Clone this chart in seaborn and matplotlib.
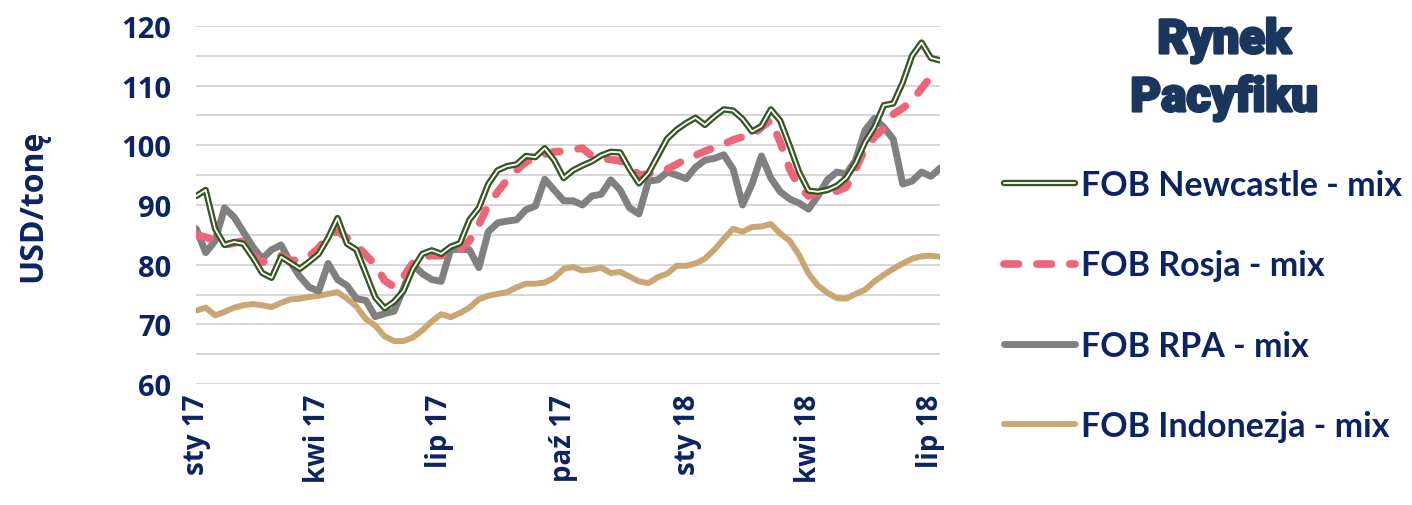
import numpy as np
import pandas as pd
import matplotlib.pyplot as plt
import matplotlib.patheffects as pe
from matplotlib.lines import Line2D
import seaborn as sns

weeks = pd.date_range('2017-01-01', periods=80, freq='7D')

newcastle = [91.5, 92.5, 86, 83.3, 83.8, 83.5, 81.2, 78.6, 77.8, 81.3,
             80.3, 79.3, 80.5, 81.8, 84.5, 87.8, 83.5, 82.5, 78.5, 74.5,
             72.7, 73.8, 75.6, 79.3, 81.8, 82.4, 81.8, 83, 83.6, 87.5,
             89.5, 93.5, 95.8, 96.5, 96.8, 98.2, 98, 99.5, 97.5, 94.5,
             95.8, 96.6, 97.3, 98.3, 98.9, 98.8, 96, 93.6, 95.3, 98.2,
             101.1, 102.6, 103.7, 104.6, 103.4, 104.8, 106, 105.8, 104.4, 102.3,
             103.2, 106, 104.1, 99.9, 95.5, 92.4, 92.2, 92.5, 93.2, 94.5,
             97, 100.5, 103, 106.7, 107, 110.5, 115, 117.2, 114.6, 114.2]
rosja = [85, 84.6, 84, 83.3, 83.6, 84, 81.5, 80.4, 80.8, 81.5,
         80.7, 80.8, 81.4, 82.8, 84.8, 85.6, 84.5, 83.3, 81.6, 80,
         77.3, 76.3, 78, 80.3, 81.3, 81.5, 81.5, 82, 82.5, 84,
         86.7, 90, 92.2, 94.2, 95.8, 97.2, 97.9, 98.5, 98.9, 99,
         99.3, 99.5, 98.2, 97.8, 97.6, 97.4, 96.5, 95, 95.2, 95.6,
         96, 96.8, 97.7, 98.3, 99, 99.6, 100.2, 100.9, 101.4, 101.6,
         103, 104.2, 100.5, 96, 93, 91.5, 92, 92.4, 92.3, 93,
         96, 99.5, 101.4, 102.8, 105.2, 106.2, 107.5, 109.5, 111.5, np.nan]
rpa = [86, 82, 84, 89.5, 88, 85.5, 83, 81, 82.5, 83.3,
       80.4, 78, 76.2, 75.6, 80.2, 77.5, 76.5, 74.3, 74, 71.3,
       71.8, 72.2, 76, 80, 78.5, 77.5, 77.2, 82.5, 82.6, 82.5,
       79.5, 85.5, 87, 87.3, 87.5, 89.2, 89.8, 94.3, 92.5, 90.7,
       90.7, 90, 91.5, 91.8, 94.2, 92.5, 89.5, 88.5, 94, 94.2,
       95.5, 95, 94.4, 96.3, 97.5, 97.8, 98.4, 96, 90, 93.5,
       98.2, 94.5, 92.2, 91, 90.3, 89.3, 91.5, 94.2, 95.5, 95.2,
       97.5, 102.5, 104.5, 103, 101, 93.5, 94, 95.5, 94.8, 96.2]
indonezja = [72.3, 72.8, 71.5, 72.1, 72.8, 73.2, 73.4, 73.2, 72.9, 73.6,
             74.2, 74.3, 74.6, 74.8, 75.1, 75.4, 74.3, 73, 70.9, 69.8,
             68, 67.2, 67.2, 67.8, 69, 70.5, 71.7, 71.2, 71.9, 72.8,
             74.2, 74.8, 75.1, 75.4, 76.2, 76.8, 76.8, 77, 77.8, 79.3,
             79.6, 79, 79.2, 79.5, 78.6, 78.8, 78, 77.2, 76.9, 77.9,
             78.5, 79.8, 79.8, 80.2, 81, 82.5, 84.3, 86, 85.5, 86.3,
             86.4, 86.8, 85.2, 84, 81.6, 78.5, 76.5, 75.3, 74.4, 74.3,
             75.1, 75.8, 77.2, 78.3, 79.3, 80.2, 81, 81.4, 81.5, 81.3]

tick_dates = ['2017-01-01', '2017-04-01', '2017-07-01', '2017-10-01',
              '2018-01-01', '2018-04-01', '2018-07-01']
tick_labels = ['sty 17', 'kwi 17', 'lip 17', 'paź 17', 'sty 18', 'kwi 18', 'lip 18']
series_names = ['FOB Newcastle - mix', 'FOB Rosja - mix', 'FOB RPA - mix', 'FOB Indonezja - mix']

navy = '#0b2360'
green = '#375623'
red = '#ec6578'
gray = '#808080'
tan = '#c9a774'
title_col = '#1b365d'

sns.set_style('white')
plt.rcParams['font.family'] = ['Open Sans', 'DejaVu Sans']

fig = plt.figure(figsize=(14.12, 5.06), dpi=100)
ax = fig.add_axes([0.139, 0.239, 0.527, 0.708])

df = pd.DataFrame({'week': weeks, 'newcastle': newcastle, 'rosja': rosja,
                   'rpa': rpa, 'indonezja': indonezja})

sns.lineplot(data=df, x='week', y='indonezja', ax=ax, color=tan, lw=4.3,
             solid_capstyle='round', solid_joinstyle='round')
sns.lineplot(data=df, x='week', y='rpa', ax=ax, color=gray, lw=5,
             solid_capstyle='round', solid_joinstyle='round')
sns.lineplot(data=df, x='week', y='rosja', ax=ax, color=red, lw=5.5,
             linestyle=(0, (1.9, 2.4)), dash_capstyle='round')
green_fx = [pe.Stroke(linewidth=4.6, foreground=green), pe.Normal()]
sns.lineplot(data=df, x='week', y='newcastle', ax=ax, color='white', lw=1.3,
             path_effects=green_fx)

ax.set_xlim(weeks[0], weeks[-1])
ax.set_ylim(60, 120)
ax.set_yticks(range(60, 121, 10))
ax.set_yticks(range(65, 121, 10), minor=True)
ax.grid(axis='y', which='both', color='#d0d0d0', lw=1.2)
ax.set_axisbelow(True)
ax.set_xticks(pd.to_datetime(tick_dates))
ax.set_xticklabels(tick_labels, rotation=90)
for s in ax.spines.values():
    s.set_visible(False)
ax.tick_params(axis='y', which='both', length=0, pad=18, labelsize=21, labelcolor=navy)
ax.tick_params(axis='x', length=0, pad=7, labelsize=20, labelcolor=navy)
for lab in ax.get_xticklabels() + ax.get_yticklabels():
    lab.set_fontweight('bold')
ax.set_xlabel('')
ax.set_ylabel('USD/tonę', fontsize=23, fontweight='bold', color=navy, labelpad=52)

fig.text(0.867, 0.962, 'Rynek\nPacyfiku', ha='center', va='top', fontsize=34,
         fontweight='black', family=['Roboto', 'DejaVu Sans'], color=title_col,
         linespacing=1.4,
         path_effects=[pe.withStroke(linewidth=2, foreground=title_col)])

handles = [
    Line2D([], [], color='white', lw=1.3, path_effects=green_fx),
    Line2D([], [], color=red, lw=5.5, linestyle=(0, (1.9, 2.4)), dash_capstyle='round'),
    Line2D([], [], color=gray, lw=5, solid_capstyle='round'),
    Line2D([], [], color=tan, lw=4.3, solid_capstyle='round'),
]
leg = fig.legend(handles, series_names, loc='center left', bbox_to_anchor=(0.699, 0.394),
                 frameon=False, handlelength=2.1, handletextpad=0.15, labelspacing=1.42,
                 borderpad=0, prop={'family': ['Lato', 'DejaVu Sans'], 'weight': 'bold', 'size': 24.5})
for t in leg.get_texts():
    t.set_color(navy)

fig.savefig('out.png', dpi=100)
